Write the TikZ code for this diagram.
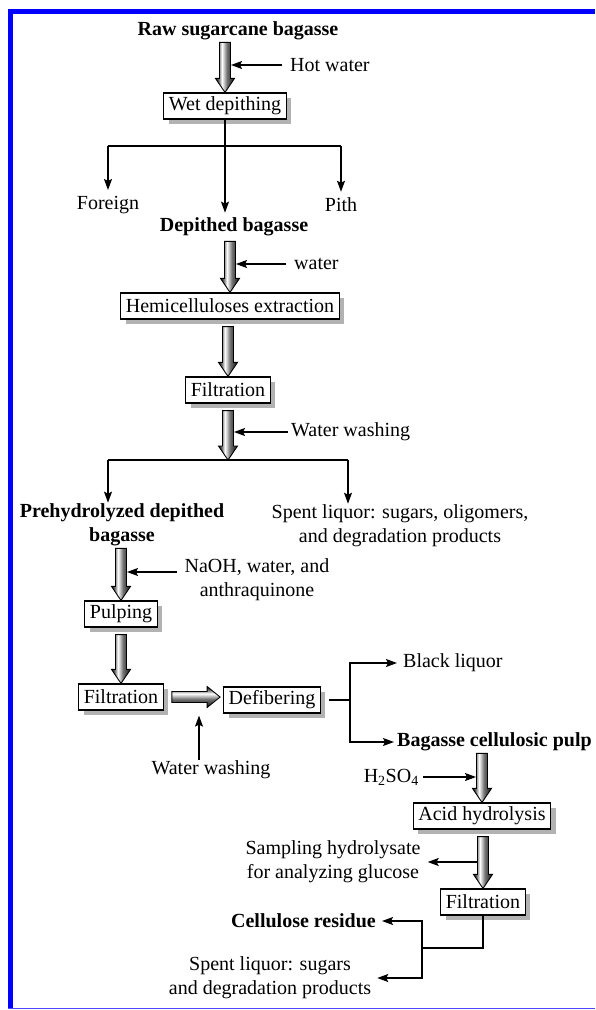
\documentclass[tikz,border=0pt]{standalone}
\usepackage{fontspec}
\setmainfont{Liberation Serif}
\usetikzlibrary{arrows.meta,calc,shadows}

\pgfdeclarehorizontalshading{fatshadev}{100bp}{color(0bp)=(black!90); color(25bp)=(black!90);
  color(32bp)=(black!65); color(42bp)=(white); color(55bp)=(black!55); color(75bp)=(black!95); color(100bp)=(black!95)}
\pgfdeclareverticalshading{fatshadeh}{100bp}{color(0bp)=(black!95); color(25bp)=(black!95);
  color(45bp)=(black!55); color(58bp)=(white); color(68bp)=(black!65); color(75bp)=(black!90); color(100bp)=(black!90)}

\tikzset{
  stage/.style={draw, line width=1.2pt, fill=white, inner xsep=5pt, inner ysep=0pt,
    minimum height=26pt,
    drop shadow={shadow xshift=5pt, shadow yshift=-5pt, fill=gray!60, opacity=1}},
  note/.style={inner sep=1pt, align=center},
  product/.style={note, font=\fontsize{20}{24}\selectfont\bfseries},
  flow/.style={line width=1.3pt, -{Stealth[length=11pt,width=8pt,inset=2pt]}},
  link/.style={line width=1.3pt},
  fatv/.style={draw=black, line width=0.9pt, shading=fatshadev},
  fath/.style={draw=black, line width=0.9pt, shading=fatshadeh}
}

\newcommand{\fatdown}[2]{%
  \shadedraw[fatv] let \p1=(#1), \p2=(#2) in
    (\x2-5.5pt,\y1) -- (\x2+5.5pt,\y1) -- (\x2+5.5pt,\y2+14pt) -- (\x2+9.5pt,\y2+14pt)
    -- (\x2,\y2) -- (\x2-9.5pt,\y2+14pt) -- (\x2-5.5pt,\y2+14pt) -- cycle;}
\newcommand{\fatright}[2]{%
  \shadedraw[fath] let \p1=(#1), \p2=(#2) in
    (\x1,\y1+5.5pt) -- (\x2-13pt,\y1+5.5pt) -- (\x2-13pt,\y1+10.5pt) -- (\x2,\y1)
    -- (\x2-13pt,\y1-10.5pt) -- (\x2-13pt,\y1-5.5pt) -- (\x1,\y1-5.5pt) -- cycle;}

\begin{document}
\begin{tikzpicture}[x=1pt, y=-1pt, font=\fontsize{20}{24}\selectfont]
  \useasboundingbox (0,0) rectangle (595,1010);
  \fill[blue] (8,9) rectangle (595,14);
  \fill[blue] (8,9) rectangle (13,1009);
  \draw[blue!70, line width=1pt] (8,1008.5) -- (595,1008.5);

  \node[product] (raw) at (238,31) {Raw sugarcane bagasse};
  \node[stage] (wet) at (225,106) {Wet depithing};
  \node[note, anchor=west] (hotw) at (289,65) {Hot water};
  \node[note] (foreign) at (108,205) {Foreign};
  \node[note] (pith) at (341,205) {Pith};
  \node[product] (depithed) at (234,227) {Depithed bagasse};
  \node[note, anchor=west] (water) at (293,264) {water};
  \node[stage] (hemi) at (230,306) {Hemicelluloses extraction};
  \node[stage] (filt1) at (228,390) {Filtration};
  \node[note, anchor=west] (wwash1) at (290,432) {Water washing};
  \node[product] (prehyd) at (122,525) {Prehydrolyzed depithed\\bagasse};
  \node[note] (spent1) at (400,526) {Spent liquor: sugars, oligomers,\\and degradation products};
  \node[note] (naoh) at (257,580) {NaOH, water, and\\anthraquinone};
  \node[stage] (pulping) at (121,614) {Pulping};
  \node[stage] (filt2) at (121,697) {Filtration};
  \node[stage] (defib) at (272,700) {Defibering};
  \node[note] (wwash2) at (211,770) {Water washing};
  \node[note, anchor=west] (black) at (402,663) {Black liquor};
  \node[product, anchor=west] (pulp) at (396,742) {Bagasse cellulosic pulp};
  \node[note, anchor=east] (h2so4) at (420,777) {H\textsubscript{2}SO\textsubscript{4}};
  \node[stage] (acid) at (482,816) {Acid hydrolysis};
  \node[note] (samp) at (333,862) {Sampling hydrolysate\\for analyzing glucose};
  \node[stage] (filt3) at (483,902) {Filtration};
  \node[product, anchor=east] (cellres) at (377,921) {Cellulose residue};
  \node[note] (spent2) at (270,978) {Spent liquor: sugars\\and degradation products};

  \coordinate (split1) at (226,146);
  \coordinate (split2) at (228,460);
  \coordinate (s2l) at (108,460);
  \coordinate (s2r) at (348,460);
  \coordinate (naohin) at ([yshift=8pt]naoh.west);
  \coordinate (jn) at (350,700);
  \coordinate (jn2) at (422,948);

  \fatdown{[yshift=-1pt]raw.south}{wet.north}
  \fatdown{[yshift=-4pt]depithed.south}{hemi.north}
  \fatdown{[yshift=-7pt]hemi.south}{filt1.north}
  \fatdown{[yshift=-7pt]filt1.south}{split2}
  \fatdown{[yshift=-1pt]prehyd.south}{pulping.north}
  \fatdown{[yshift=-7pt]pulping.south}{filt2.north}
  \fatright{[xshift=8pt]filt2.east}{[xshift=-3pt]defib.west}
  \fatdown{[yshift=-1pt]pulp.south}{acid.north}
  \fatdown{[yshift=-7pt]acid.south}{filt3.north}

  \draw[flow] ([xshift=-7pt]hotw.west) -- ([xshift=6pt]wet.north |- hotw.west);
  \draw[flow] (wet.south) -- ([yshift=4pt]wet.south |- depithed.north);
  \draw[link] (foreign |- split1) -- (pith |- split1);
  \draw[flow] (foreign |- split1) -- ([yshift=5pt]foreign.north);
  \draw[flow] (pith |- split1) -- ([yshift=5pt]pith.north);
  \draw[flow] ([xshift=-7pt]water.west) -- ([xshift=6pt]hemi.north |- water.west);
  \draw[flow] ([xshift=-2pt]wwash1.west) -- ([xshift=6pt]filt1.north |- wwash1.west);
  \draw[link] (s2l) -- (s2r);
  \draw[flow] (s2l) -- (s2l |- prehyd.north);
  \draw[flow] (s2r) -- (s2r |- spent1.north);
  \draw[flow] ([xshift=-6pt]naohin) -- ([xshift=6pt]pulping.north |- naohin);
  \draw[flow] ([xshift=-12pt]wwash2.north) -- ([xshift=-12pt,yshift=-5pt]wwash2.north |- filt2.south);
  \draw[link] ([xshift=8pt]defib.east) -- (jn);
  \draw[flow] (jn) |- ([xshift=-5pt]black.west);
  \draw[flow] (jn) |- ([xshift=-2pt]pulp.west);
  \draw[flow] ([xshift=3pt]h2so4.east) -- ([xshift=-6pt]acid.north |- h2so4.east);
  \draw[flow] ([xshift=-6pt]filt3.north |- samp.east) -- ([xshift=6pt]samp.east);
  \draw[link] (filt3.south) |- (jn2);
  \draw[flow] (jn2) |- ([xshift=5pt]cellres.east);
  \draw[flow] (jn2) |- ([xshift=5pt]spent2.east);
\end{tikzpicture}
\end{document}
